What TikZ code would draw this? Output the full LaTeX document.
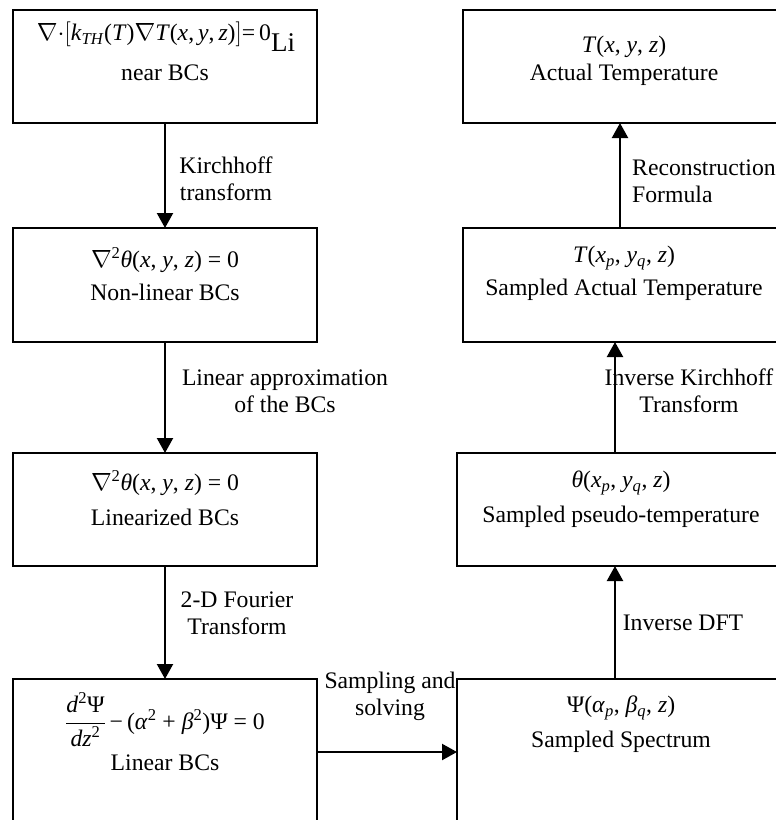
\documentclass[tikz,border=0pt]{standalone}
\usepackage{fontspec}
\setmainfont{Liberation Serif}
\usetikzlibrary{arrows.meta}
\begin{document}
\begin{tikzpicture}[x=1pt,y=-1pt,
  box/.style={draw, line width=2.2pt, rectangle, inner sep=0pt, outer sep=0pt},
  txt/.style={inner sep=0pt, font=\fontsize{23.7}{27}\selectfont, align=center},
  lbl/.style={inner sep=0pt, font=\fontsize{23.7}{27}\selectfont, align=center},
  arr/.style={line width=2.2pt, -{Triangle[length=15pt,width=16pt]}},
]
\useasboundingbox (0,0) rectangle (776,820);
\clip (0,0) rectangle (776,820);

% left column boxes
\node[box, minimum width=304pt, minimum height=113pt] (B1) at (165,66.5) {};
\node[box, minimum width=304pt, minimum height=114pt] (B2) at (165,285) {};
\node[box, minimum width=304pt, minimum height=113pt] (B3) at (165,509.5) {};
\node[box, minimum width=304pt, minimum height=260pt] (B4) at (165,809) {};
% right column boxes
\node[box, minimum width=322pt, minimum height=113pt] (R1) at (624,66.5) {};
\node[box, minimum width=322pt, minimum height=114pt] (R2) at (624,285) {};
\node[box, minimum width=328pt, minimum height=113pt] (R3) at (621,509.5) {};
\node[box, minimum width=328pt, minimum height=260pt] (R4) at (621,809) {};

% box texts
\node[txt] (F1) at (166,37) {$\nabla{\cdot}\bigl[$\textit{k}\textsubscript{\textit{TH}}(\textit{T})$\nabla$\textit{T}(\textit{x},\,\textit{y},\,\textit{z})$\bigr]$=\,0\raisebox{-11pt}{\fontsize{27}{27}\selectfont Li}};
\node[txt] (C1) at (165,73) {near BCs};
\node[txt] (F2) at (165,260) {$\nabla$\textsuperscript{2}\textit{θ}(\textit{x}, \textit{y}, \textit{z}) = 0};
\node[txt] (C2) at (165,292) {Non-linear BCs};
\node[txt] (F3) at (165,483) {$\nabla$\textsuperscript{2}\textit{θ}(\textit{x}, \textit{y}, \textit{z}) = 0};
\node[txt] (C3) at (165,517) {Linearized BCs};
\node[txt] (F4) at (165,720) {${\displaystyle\frac{\mbox{\textit{d}\textsuperscript{2}Ψ}}{\mbox{\textit{dz}\textsuperscript{2}}}}$\,−\,(\textit{α}\textsuperscript{2} + \textit{β}\textsuperscript{2})Ψ = 0};
\node[txt] (C4) at (165,763) {Linear BCs};

\node[txt] (G1) at (624,47) {\textit{T}(\textit{x}, \textit{y}, \textit{z})};
\node[txt] (D1) at (624,75) {Actual Temperature};
\node[txt] (G2) at (624,258) {\textit{T}(\textit{x}\textsubscript{\textit{p}}, \textit{y}\textsubscript{\textit{q}}, \textit{z})};
\node[txt] (D2) at (624,290) {Sampled Actual Temperature};
\node[txt] (G3) at (621,483) {\textit{θ}(\textit{x}\textsubscript{\textit{p}}, \textit{y}\textsubscript{\textit{q}}, \textit{z})};
\node[txt] (D3) at (621,517) {Sampled pseudo-temperature};
\node[txt] (G4) at (621,708) {Ψ(\textit{α}\textsubscript{\textit{p}}, \textit{β}\textsubscript{\textit{q}}, \textit{z})};
\node[txt] (D4) at (621,742) {Sampled Spectrum};

% connectors
\draw[arr] (B1.south) -- (B2.north);
\draw[arr] (B2.south) -- (B3.north);
\draw[arr] (B3.south) -- (B4.north);
\draw[arr] ([yshift=-73pt]B4.north east) -- ([yshift=-73pt]R4.north west);
\draw[arr] ([xshift=-6pt]R4.north) -- ([xshift=-6pt]R3.south);
\draw[arr] ([xshift=-6pt]R3.north) -- ([xshift=-9pt]R2.south);
\draw[arr] ([xshift=-4pt]R2.north) -- ([xshift=-4pt]R1.south);

% connector labels
\node[lbl] (L1) at (226,178.5) {Kirchhoff\\transform};
\node[lbl] (L2) at (285,391.5) {Linear approximation\\of the BCs};
\node[lbl] (L3) at (237,613) {2-D Fourier\\Transform};
\node[lbl] (L4) at (390,696.5) {Sampling and\\solving};
\node[lbl, align=left, anchor=west] (L5) at (632,181) {Reconstruction\\Formula};
\node[lbl] (L6) at (689,391) {Inverse Kirchhoff\\Transform};
\node[lbl] (L7) at (683,623) {Inverse DFT};
\end{tikzpicture}
\end{document}
